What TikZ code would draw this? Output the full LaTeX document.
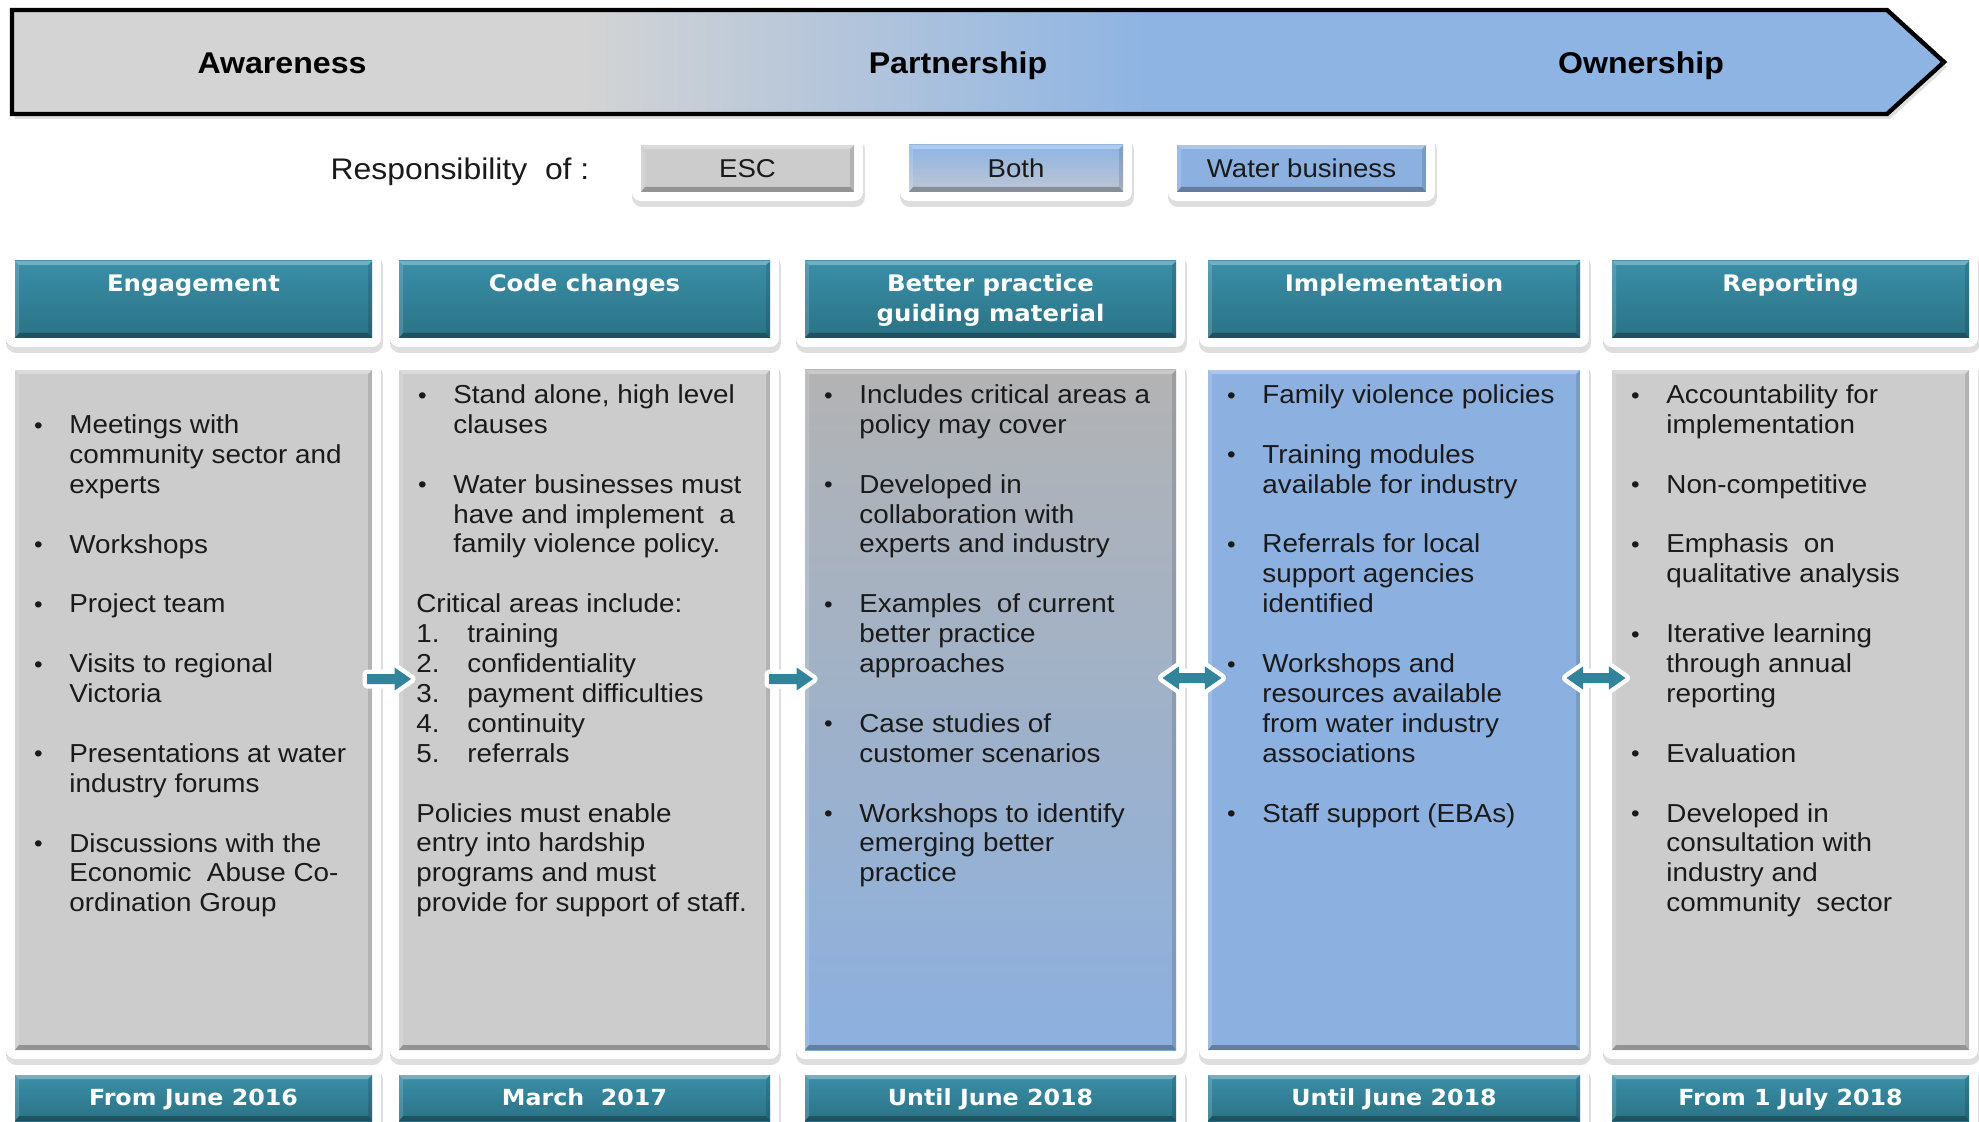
\documentclass[tikz,border=0pt]{standalone}
\usepackage{fontspec}
\setmainfont{Liberation Sans}[FakeStretch=1.07]
\newfontfamily\hdfont{DejaVu Sans}[FakeStretch=1.07]
\usetikzlibrary{shapes.arrows,shadows,calc}

\definecolor{tealtop}{HTML}{3A8FA7}
\definecolor{tealbot}{HTML}{2A7286}
\definecolor{tealarr}{HTML}{31849B}
\definecolor{escgray}{HTML}{CCCCCC}
\definecolor{wbblue}{HTML}{8CB0DF}
\definecolor{cthreetop}{HTML}{B3B3B3}
\definecolor{bargray}{HTML}{D4D4D4}
\definecolor{barblue}{HTML}{8EB4E3}
\definecolor{bothbot}{HTML}{BEC6D4}
\definecolor{bodytext}{HTML}{1A1A1A}

% list helpers: bullet, continuation indent, numbered item, first-line strut, blank line
\newcommand{\bul}{\hspace*{0.8pt}\makebox[17.7pt][l]{\raisebox{0.2pt}{\fontsize{11.5}{11.5}\selectfont\textbullet}}}
\newcommand{\cnt}{\hspace*{18.5pt}}
\newcommand{\itm}[1]{\makebox[25.5pt][l]{#1}}
\newcommand{\fl}{\rule{0pt}{12pt}}
\newcommand{\gap}{\\[14.95pt]}

\tikzset{
  framed/.style={
    general shadow={fill=black, draw=black, opacity=0.13, line width=10pt, line join=round, shadow xshift=0.6pt, shadow yshift=-2.5pt},
    preaction={draw=white, fill=white, line width=9pt, line join=round}},
  bev/.style={path picture={
    \coordinate (bSW) at (path picture bounding box.south west);
    \coordinate (bNE) at (path picture bounding box.north east);
    \coordinate (bNW) at (path picture bounding box.north west);
    \coordinate (bSE) at (path picture bounding box.south east);
    \fill[white,opacity=.30] (bNW) -- (bNE) -- ([shift={(-2pt,-2pt)}]bNE) -- ([shift={(2pt,-2pt)}]bNW) -- cycle;
    \fill[white,opacity=.15] (bNW) -- (bSW) -- ([shift={(2pt,2.5pt)}]bSW) -- ([shift={(2pt,-2pt)}]bNW) -- cycle;
    \fill[black,opacity=.12] (bNE) -- (bSE) -- ([shift={(-2pt,2.5pt)}]bSE) -- ([shift={(-2pt,-2pt)}]bNE) -- cycle;
    \fill[black,opacity=.28] (bSW) -- (bSE) -- ([shift={(-2pt,2.5pt)}]bSE) -- ([shift={(2pt,2.5pt)}]bSW) -- cycle;
  }},
  hdrbox/.style={framed, bev, top color=tealtop, bottom color=tealbot, inner sep=0pt, minimum height=38.5pt},
  hdtext/.style={anchor=base, text=white, font=\hdfont\bfseries\fontsize{11.4}{14}\selectfont, inner sep=0pt},
  footbox/.style={framed, bev, top color=tealtop, bottom color=tealbot, inner sep=0pt, minimum height=23pt,
    text=white, font=\hdfont\bfseries\fontsize{11.1}{13}\selectfont, text height=7pt, text depth=0pt},
  bodybox/.style={framed, bev, inner sep=0pt, minimum height=340pt},
  bodytxt/.style={anchor=north west, align=left, inner sep=0pt, text=bodytext, font=\fontsize{13}{14.95}\selectfont},
  legbox/.style={framed, bev, inner sep=0pt, minimum height=23.5pt, text height=9.3pt, text depth=0pt,
    text=bodytext, font=\fontsize{12.9}{15}\selectfont},
  toplab/.style={anchor=base, inner sep=0pt, font=\bfseries\fontsize{15}{18}\selectfont},
  blkarr/.style={single arrow, fill=tealarr, inner sep=0pt, inner ysep=2.3pt, minimum height=22pt,
    single arrow head extend=3.3pt, single arrow tip angle=70,
    preaction={draw=white, line width=4.5pt, line join=round}},
  dblarr/.style={double arrow, fill=tealarr, inner sep=0pt, inner ysep=2.3pt, minimum height=29.5pt,
    double arrow head extend=3.3pt, double arrow tip angle=70,
    preaction={draw=white, line width=4.5pt, line join=round}},
}

\begin{document}
\begin{tikzpicture}[x=0.5pt,y=-0.5pt]
\useasboundingbox[fill=white] (0,0) rectangle (1979,1122);

% ---- stage arrow across the top ----
\fill[black, opacity=0.12, xshift=1.5pt, yshift=-2.5pt]
  (12,10) -- (1887,10) -- (1944,62) -- (1887,114) -- (12,114) -- cycle;
\path[draw=black, line width=2.2pt, line join=miter, path picture={
    \fill[bargray] (0,0) rectangle (580,130);
    \shade[left color=bargray, right color=barblue] (579,0) rectangle (1150,130);
    \fill[barblue] (1149,0) rectangle (1979,130);
  }]
  (12,10) -- (1887,10) -- (1944,62) -- (1887,114) -- (12,114) -- cycle;
\node[toplab] (aware) at (282,74) {Awareness};
\node[toplab] (partner) at (958,74) {Partnership};
\node[toplab] (owner) at (1641,74) {Ownership};

% ---- legend ----
\node[anchor=base, inner sep=0pt, text=bodytext, font=\fontsize{14.9}{17}\selectfont] (resp) at (460,180) {Responsibility~ of :};
\node[legbox, fill=escgray, minimum width=106.5pt] (esc) at (747.5,168.5) {ESC};
\node[legbox, top color=barblue, bottom color=bothbot, minimum width=107pt] (both) at (1016,168.5) {Both};
\node[legbox, fill=wbblue, minimum width=124.5pt] (wb) at (1301.5,168.5) {Water business};

% ---- column headers ----
\node[hdrbox, minimum width=178.5pt] (h1) at (193.5,299.5) {};
\node[hdrbox, minimum width=185.5pt] (h2) at (584.5,299.5) {};
\node[hdrbox, minimum width=185.5pt] (h3) at (990.5,299.5) {};
\node[hdrbox, minimum width=186pt]   (h4) at (1394,299.5) {};
\node[hdrbox, minimum width=178.5pt] (h5) at (1790.5,299.5) {};
\node[hdtext] (h1t) at (193.5,292) {Engagement};
\node[hdtext] (h2t) at (584.5,292) {Code changes};
\node[hdtext] (h3t) at (990.5,292) {Better practice};
\node[hdtext] (h3u) at (990.5,322) {guiding material};
\node[hdtext] (h4t) at (1394,292) {Implementation};
\node[hdtext] (h5t) at (1790.5,292) {Reporting};

% ---- column bodies ----
\node[bodybox, fill=escgray, minimum width=178.5pt] (b1) at (193.5,710) {};
\node[bodybox, fill=escgray, minimum width=185.5pt] (b2) at (584.5,710) {};
\node[bodybox, top color=cthreetop, bottom color=wbblue, minimum width=185.5pt] (b3) at (990.5,710) {};
\node[bodybox, fill=wbblue, minimum width=186pt] (b4) at (1394,710) {};
\node[bodybox, fill=escgray, minimum width=178.5pt] (b5) at (1790.5,710) {};

\node[bodytxt] (t1) at (32,409) {\fl\bul Meetings with\\
\cnt community sector and\\
\cnt experts\gap
\bul Workshops\gap
\bul Project team\gap
\bul Visits to regional\\
\cnt Victoria\gap
\bul Presentations at water\\
\cnt industry forums\gap
\bul Discussions with the\\
\cnt Economic~ Abuse Co-\\
\cnt ordination Group};

\node[bodytxt] (t2) at (416,379) {\fl\bul Stand alone, high level\\
\cnt clauses\gap
\bul Water businesses must\\
\cnt have and implement~ a\\
\cnt family violence policy.\gap
Critical areas include:\\
\itm{1.}training\\
\itm{2.}confidentiality\\
\itm{3.}payment difficulties\\
\itm{4.}continuity\\
\itm{5.}referrals\gap
Policies must enable\\
entry into hardship\\
programs and must\\
provide for support of staff.};

\node[bodytxt] (t3) at (822,379) {\fl\bul Includes critical areas a\\
\cnt policy may cover\gap
\bul Developed in\\
\cnt collaboration with\\
\cnt experts and industry\gap
\bul Examples~ of current\\
\cnt better practice\\
\cnt approaches\gap
\bul Case studies of\\
\cnt customer scenarios\gap
\bul Workshops to identify\\
\cnt emerging better\\
\cnt practice};

\node[bodytxt] (t4) at (1225,379) {\fl\bul Family violence policies\gap
\bul Training modules\\
\cnt available for industry\gap
\bul Referrals for local\\
\cnt support agencies\\
\cnt identified\gap
\bul Workshops and\\
\cnt resources available\\
\cnt from water industry\\
\cnt associations\gap
\bul Staff support (EBAs)};

\node[bodytxt] (t5) at (1629,379) {\fl\bul Accountability for\\
\cnt implementation\gap
\bul Non-competitive\gap
\bul Emphasis~ on\\
\cnt qualitative analysis\gap
\bul Iterative learning\\
\cnt through annual\\
\cnt reporting\gap
\bul Evaluation\gap
\bul Developed in\\
\cnt consultation with\\
\cnt industry and\\
\cnt community~ sector};

% ---- timing footers ----
\node[footbox, minimum width=178.5pt] (f1) at (193.5,1098) {From June 2016};
\node[footbox, minimum width=185.5pt] (f2) at (584.5,1098) {March~ 2017};
\node[footbox, minimum width=185.5pt] (f3) at (990.5,1098) {Until June 2018};
\node[footbox, minimum width=186pt]   (f4) at (1394,1098) {Until June 2018};
\node[footbox, minimum width=178.5pt] (f5) at (1790.5,1098) {From 1 July 2018};

% ---- flow arrows between columns ----
\node[blkarr] (a12) at ([yshift=15.5pt]$(b1.east)!0.5!(b2.west)$) {};
\node[blkarr] (a23) at ([yshift=15.5pt]$(b2.east)!0.5!(b3.west)$) {};
\node[dblarr] (a34) at ([yshift=16pt]$(b3.east)!0.5!(b4.west)$) {};
\node[dblarr] (a45) at ([yshift=16pt]$(b4.east)!0.5!(b5.west)$) {};
\end{tikzpicture}
\end{document}
